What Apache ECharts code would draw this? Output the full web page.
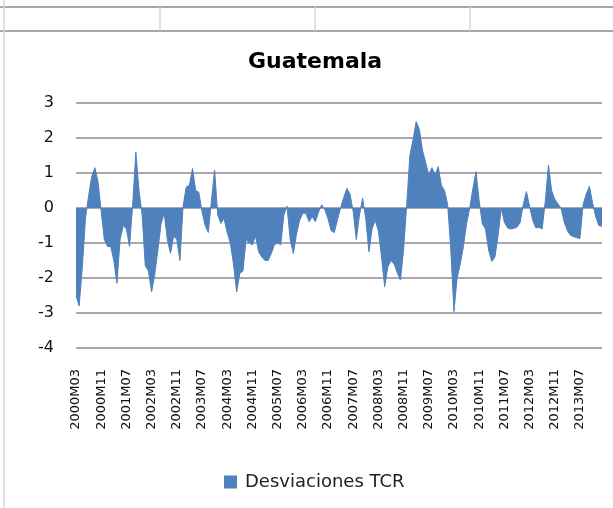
<!DOCTYPE html>
<html>
<head>
<meta charset="utf-8">
<script src="https://cdn.jsdelivr.net/npm/echarts@6/dist/echarts.min.js"></script>
<style>
  html, body { margin: 0; padding: 0; background: #fff; }
  #chart { width: 613px; height: 508px; }
</style>
</head>
<body>
<div id="chart"></div>
<script>
// monthly series, 2000M03 .. 2014M02
const startYear = 2000;
const startMonth = 3;

const desviacionesTCR = [
  -2.5, -2.8, -1.7, -0.3, 0.35, 0.9, 1.15, 0.75, -0.1, -0.9,
  -1.1, -1.1, -1.5, -2.15, -0.9, -0.5, -0.6, -1.1, 0.1, 1.6,
  0.5, -0.2, -1.65, -1.8, -2.4, -1.9, -1.2, -0.45, -0.15, -0.9,
  -1.3, -0.8, -0.9, -1.5, 0.05, 0.6, 0.65, 1.13, 0.5, 0.45,
  -0.1, -0.5, -0.7, 0.2, 1.08, -0.2, -0.44, -0.3, -0.7, -1.0,
  -1.6, -2.4, -1.87, -1.8, -0.9, -1.0, -1.05, -0.8, -1.25, -1.4,
  -1.5, -1.5, -1.3, -1.05, -1.0, -1.05, -0.2, 0.05, -0.9, -1.3,
  -0.75, -0.35, -0.15, -0.15, -0.39, -0.25, -0.39, -0.12, 0.09,
  -0.05, -0.3, -0.65, -0.7, -0.34, 0.0, 0.3, 0.56, 0.4, -0.1,
  -0.9, -0.2, 0.28, -0.3, -1.25, -0.6, -0.35, -0.65, -1.4, -2.25,
  -1.68, -1.5, -1.6, -1.85, -2.06, -1.2, 0.1, 1.5, 1.95, 2.47,
  2.25, 1.65, 1.3, 0.95, 1.15, 0.95, 1.18, 0.65, 0.5, 0.1,
  -1.2, -2.96, -2.0, -1.6, -1.1, -0.45, 0.0, 0.55, 1.04, 0.2,
  -0.45, -0.6, -1.2, -1.53, -1.4, -0.8, 0.0, -0.4, -0.57, -0.6,
  -0.58, -0.55, -0.42, 0.1, 0.47, 0.05, -0.35, -0.57, -0.55, -0.6,
  0.2, 1.23, 0.5, 0.25, 0.12, 0.0, -0.4, -0.65, -0.78, -0.82,
  -0.85, -0.87, 0.1, 0.4, 0.62, 0.15, -0.25, -0.5, -0.52
];

const yTicks = [-4, -3, -2, -1, 0, 1, 2, 3];

const categories = desviacionesTCR.map((_, i) => {
  const m = startMonth - 1 + i;
  const year = startYear + Math.floor(m / 12);
  const month = (m % 12) + 1;
  return year + 'M' + String(month).padStart(2, '0');
});

const font = 'DejaVu Sans';
const chart = echarts.init(document.getElementById('chart'), null, { renderer: 'canvas' });

chart.setOption({
  animation: false,
  backgroundColor: '#fff',
  title: {
    text: 'Guatemala',
    left: 243,
    top: 46,
    textStyle: { fontFamily: font, fontWeight: 'bold', fontSize: 22, color: '#000' },
  },
  legend: {
    data: ['Desviaciones TCR'],
    left: 219,
    top: 468,
    icon: 'rect',
    itemWidth: 13,
    itemHeight: 13,
    textStyle: { fontFamily: font, fontSize: 18, color: '#222', padding: [0, 0, 0, 3] },
  },
  grid: { left: 76, right: 11, top: 103, bottom: 160 },
  xAxis: {
    type: 'category',
    data: categories,
    boundaryGap: false,
    axisLine: { show: false },
    axisTick: { show: false },
    axisLabel: {
      interval: 7,
      rotate: 90,
      margin: 21,
      fontFamily: font,
      fontSize: 13,
      color: '#111',
    },
  },
  yAxis: {
    type: 'value',
    min: yTicks[0],
    max: yTicks[yTicks.length - 1],
    interval: 1,
    axisLine: { show: false },
    axisTick: { show: false },
    axisLabel: { margin: 22, fontFamily: font, fontSize: 16, color: '#111' },
    splitLine: { lineStyle: { color: '#8c8c8c', width: 1.5 } },
  },
  series: [{
    name: 'Desviaciones TCR',
    type: 'line',
    data: desviacionesTCR,
    showSymbol: false,
    itemStyle: { color: '#4f81bd' },
    lineStyle: { color: '#4f81bd', width: 1 },
    areaStyle: { color: '#4f81bd', opacity: 1 },
  }],
  graphic: [
    { type: 'line', shape: { x1: 0, y1: 7, x2: 613, y2: 7 }, style: { stroke: '#a6a6a6', lineWidth: 2 } },
    { type: 'line', shape: { x1: 0, y1: 31, x2: 613, y2: 31 }, style: { stroke: '#a6a6a6', lineWidth: 2 } },
    { type: 'line', shape: { x1: 160, y1: 7, x2: 160, y2: 31 }, style: { stroke: '#d0d7e5', lineWidth: 1.5 } },
    { type: 'line', shape: { x1: 315, y1: 7, x2: 315, y2: 31 }, style: { stroke: '#d0d7e5', lineWidth: 1.5 } },
    { type: 'line', shape: { x1: 470, y1: 7, x2: 470, y2: 31 }, style: { stroke: '#d0d7e5', lineWidth: 1.5 } },
    { type: 'line', shape: { x1: 4, y1: 0, x2: 4, y2: 508 }, style: { stroke: '#d0d7e5', lineWidth: 1.5 } },
  ],
});
</script>
</body>
</html>
